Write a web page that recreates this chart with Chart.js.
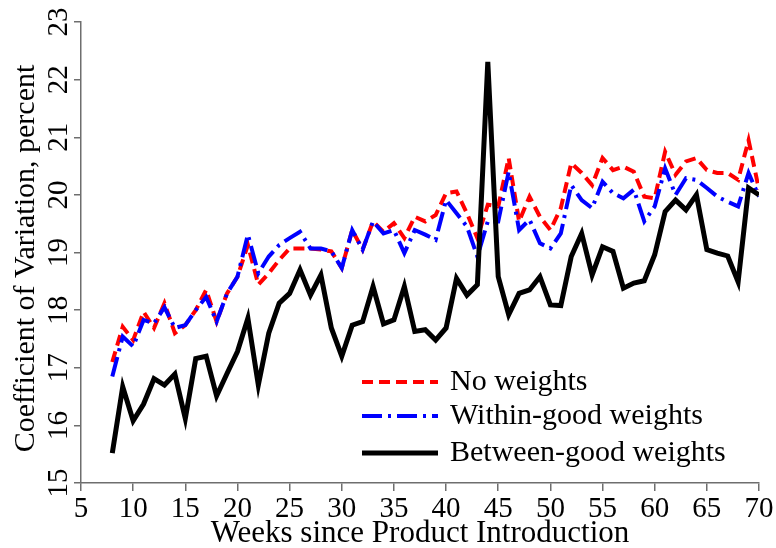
<!DOCTYPE html>
<html>
<head>
<meta charset="utf-8">
<script src="https://cdn.jsdelivr.net/npm/chart.js@4.4.0/dist/chart.umd.min.js"></script>
<style>
  html, body { margin: 0; padding: 0; background: #fff; }
  #wrap { width: 776px; height: 548px; }
</style>
</head>
<body>
<div id="wrap"><canvas id="cv" width="776" height="548"></canvas></div>
<script>
// weeks since product introduction
const weeks = [8, 9, 10, 11, 12, 13, 14, 15, 16, 17, 18, 19, 20, 21, 22, 23, 24, 25, 26, 27,
  28, 29, 30, 31, 32, 33, 34, 35, 36, 37, 38, 39, 40, 41, 42, 43, 44, 45, 46, 47,
  48, 49, 50, 51, 52, 53, 54, 55, 56, 57, 58, 59, 60, 61, 62, 63, 64, 65, 66, 67,
  68, 69, 70];

const noWeights = [17.10, 17.71, 17.48, 17.97, 17.69, 18.12, 17.60, 17.74, 18.00, 18.35,
  17.80, 18.29, 18.58, 19.13, 18.44, 18.64, 18.87, 19.07, 19.07, 19.07,
  19.05, 19.02, 18.73, 19.39, 19.05, 19.54, 19.36, 19.51, 19.25, 19.62,
  19.54, 19.65, 20.03, 20.06, 19.68, 19.25, 19.83, 19.80, 20.64, 19.54,
  19.97, 19.62, 19.39, 19.77, 20.55, 20.38, 20.17, 20.64, 20.43, 20.49,
  20.40, 19.97, 19.94, 20.75, 20.35, 20.58, 20.64, 20.43, 20.38, 20.38,
  20.26, 20.95, 20.09];

const withinGood = [16.85, 17.54, 17.37, 17.83, 17.77, 18.05, 17.69, 17.74, 18.00, 18.23,
  17.80, 18.29, 18.58, 19.31, 18.64, 18.93, 19.13, 19.25, 19.36, 19.07,
  19.07, 19.02, 18.73, 19.39, 19.05, 19.54, 19.33, 19.39, 18.99, 19.39,
  19.31, 19.22, 19.91, 19.68, 19.45, 18.93, 19.54, 19.54, 20.40, 19.39,
  19.57, 19.16, 19.07, 19.33, 20.17, 19.91, 19.77, 20.23, 20.03, 19.94,
  20.09, 19.54, 19.80, 20.46, 20.00, 20.29, 20.26, 20.12, 19.97, 19.88,
  19.80, 20.38, 19.97];

const betweenGood = [15.52, 16.67, 16.08, 16.37, 16.81, 16.70, 16.89, 16.12, 17.16, 17.20,
  16.51, 16.90, 17.28, 17.86, 16.70, 17.60, 18.12, 18.29, 18.70, 18.26,
  18.61, 17.69, 17.20, 17.74, 17.80, 18.41, 17.76, 17.83, 18.41, 17.63,
  17.66, 17.48, 17.69, 18.55, 18.26, 18.44, 22.31, 18.58, 17.92, 18.29,
  18.35, 18.58, 18.09, 18.08, 18.93, 19.33, 18.61, 19.10, 19.02, 18.38,
  18.47, 18.51, 18.96, 19.71, 19.91, 19.74, 20.00, 19.05, 18.99, 18.94,
  18.49, 20.12, 20.00];

const seriesNames = ['No weights', 'Within-good weights', 'Between-good weights'];

const serif = '"Liberation Serif", "DejaVu Serif", serif';
const axisGray = '#6e6e6e';

function pts(vals) {
  return weeks.map((w, i) => ({ x: w, y: vals[i] }));
}

// draws the rotated y labels, the axis titles and the legend box
const extras = {
  id: 'extras',
  afterDraw(chart) {
    const ctx = chart.ctx;
    const y = chart.scales.y;
    const area = chart.chartArea;
    ctx.save();
    ctx.fillStyle = '#000';
    ctx.textAlign = 'center';
    ctx.textBaseline = 'middle';
    ctx.font = '29px ' + serif;
    y.ticks.forEach(t => {
      const py = y.getPixelForValue(t.value);
      ctx.save();
      ctx.translate(59, py);
      ctx.rotate(-Math.PI / 2);
      ctx.fillText(String(t.value), 0, 0);
      ctx.restore();
    });
    ctx.font = '30px ' + serif;
    ctx.save();
    ctx.translate(26, (area.top + area.bottom) / 2 + 6);
    ctx.rotate(-Math.PI / 2);
    ctx.fillText('Coefficient of Variation, percent', 0, 0);
    ctx.restore();

    ctx.font = '31px ' + serif;
    ctx.fillText('Weeks since Product Introduction', (area.left + area.right) / 2, 534);

    // legend
    const rows = [382, 416, 453];
    ctx.font = '30px ' + serif;
    ctx.textAlign = 'left';
    chart.data.datasets.forEach((ds, i) => {
      ctx.beginPath();
      ctx.strokeStyle = ds.borderColor;
      ctx.lineWidth = ds.borderWidth;
      ctx.setLineDash(ds.borderDash || []);
      ctx.moveTo(362, rows[i]);
      ctx.lineTo(438, rows[i]);
      ctx.stroke();
      ctx.setLineDash([]);
      ctx.fillText(ds.label, 450, rows[i]);
    });
    ctx.restore();
  }
};

new Chart(document.getElementById('cv'), {
  type: 'line',
  data: {
    datasets: [
      { label: seriesNames[0], data: pts(noWeights), borderColor: '#ff0000',
        borderWidth: 4, borderDash: [11, 6], order: 3 },
      { label: seriesNames[1], data: pts(withinGood), borderColor: '#0000ff',
        borderWidth: 4, borderDash: [20, 6, 3, 6], order: 2 },
      { label: seriesNames[2], data: pts(betweenGood), borderColor: '#000000',
        borderWidth: 5, order: 1 }
    ]
  },
  options: {
    responsive: false,
    animation: false,
    events: [],
    layout: { padding: { top: 22, right: 17, left: 0, bottom: 0 } },
    elements: { point: { radius: 0 }, line: { tension: 0, borderJoinStyle: 'miter' } },
    plugins: { legend: { display: false }, tooltip: { enabled: false } },
    scales: {
      x: {
        type: 'linear',
        min: 5, max: 70,
        ticks: { stepSize: 5, color: '#000', font: { family: serif, size: 29 }, padding: 1, maxRotation: 0 },
        grid: { drawOnChartArea: false, tickLength: 8, color: axisGray, lineWidth: 1.5 },
        border: { color: axisGray, width: 1.5 },
        afterFit(s) { s.height = 65; }
      },
      y: {
        min: 15, max: 23,
        ticks: { stepSize: 1, display: false },
        grid: { drawOnChartArea: false, tickLength: 7, color: axisGray, lineWidth: 1.5 },
        border: { color: axisGray, width: 1.5 },
        afterFit(s) { s.width = 81; }
      }
    }
  },
  plugins: [extras]
});
</script>
</body>
</html>
